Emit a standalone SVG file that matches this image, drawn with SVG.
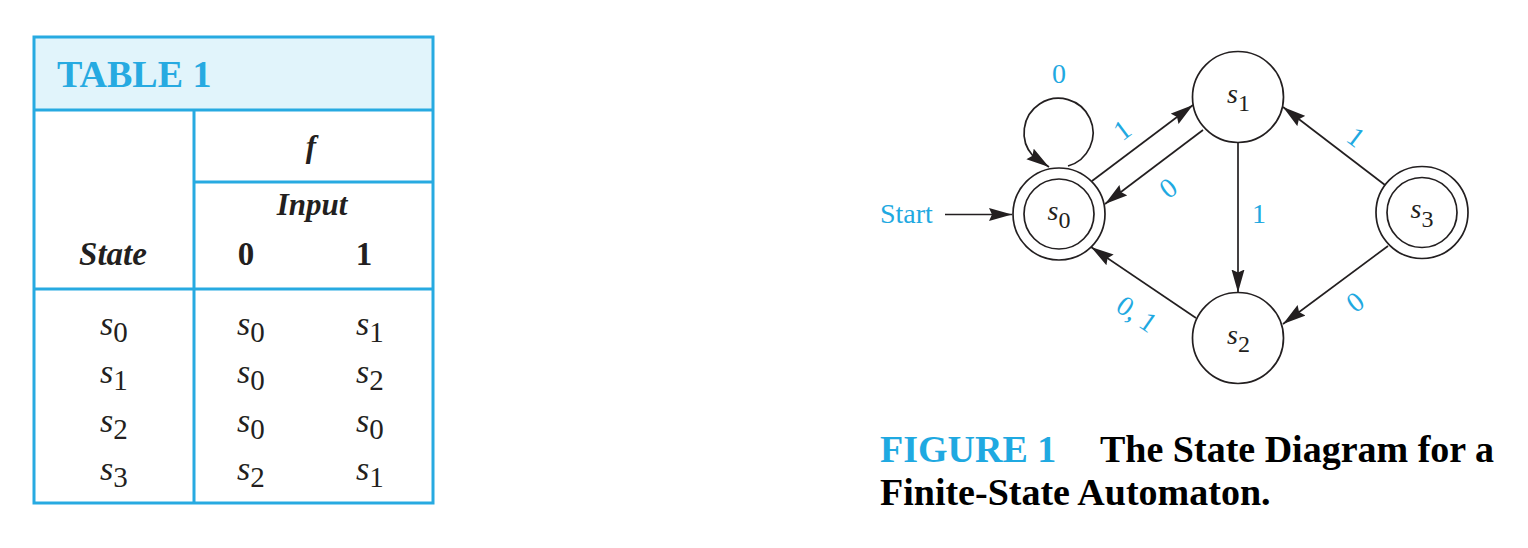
<svg xmlns="http://www.w3.org/2000/svg" width="1528" height="548" viewBox="0 0 1528 548">
<style>
.tb{fill:none;stroke:#27aae1;stroke-width:3}
.hd{fill:#e1f4fb}
.title{font-family:"Liberation Serif",serif;font-weight:bold;font-size:38px;fill:#27aae1}
.bi{font-family:"Liberation Serif",serif;font-weight:bold;font-style:italic;fill:#231f20}
.b{font-family:"Liberation Serif",serif;font-weight:bold;font-size:33px;fill:#231f20}
.ts{font-family:"Liberation Serif",serif;font-style:italic;font-size:34px;fill:#231f20}
.tsub{font-style:normal;font-size:29px}
.node{fill:none;stroke:#231f20;stroke-width:1.7}
.nl{font-family:"Liberation Serif",serif;font-style:italic;font-size:28px;fill:#231f20}
.nsub{font-style:normal;font-size:24px}
.edge{fill:none;stroke:#231f20;stroke-width:1.7;marker-end:url(#ah)}
.el{font-family:"Liberation Serif",serif;font-size:28px;fill:#1fa9e1;text-anchor:middle}
.cap{font-family:"Liberation Serif",serif;font-weight:bold;font-size:38px;fill:#000}
</style>
<defs>
<marker id="ah" markerUnits="userSpaceOnUse" markerWidth="24" markerHeight="14" refX="23" refY="7" orient="auto" viewBox="0 0 24 14">
<path d="M0,0.5 L23,7 L0,13.5 L3,7 z" fill="#231f20"/>
</marker>
</defs>
<rect width="1528" height="548" fill="#fff"/>

<g id="table1">
<rect class="hd" x="34" y="37" width="399" height="73"/>
<rect class="tb" x="34" y="37" width="399" height="466"/>
<line class="tb" x1="34" y1="110" x2="433" y2="110"/>
<line class="tb" x1="194" y1="110" x2="194" y2="503"/>
<line class="tb" x1="194" y1="182" x2="433" y2="182"/>
<line class="tb" x1="34" y1="289" x2="433" y2="289"/>
<text class="title" x="57" y="87">TABLE 1</text>
<text class="bi" x="311" y="157" font-size="31" text-anchor="middle">f</text>
<text class="bi" x="312" y="215" font-size="31" text-anchor="middle">Input</text>
<text class="bi" x="113" y="265" font-size="33" text-anchor="middle">State</text>
<text class="b" x="246" y="265" text-anchor="middle">0</text>
<text class="b" x="364" y="265" text-anchor="middle">1</text>
<text class="ts" x="100" y="335">s<tspan class="tsub" dy="7">0</tspan></text>
<text class="ts" x="237" y="335">s<tspan class="tsub" dy="7">0</tspan></text>
<text class="ts" x="356" y="335">s<tspan class="tsub" dy="7">1</tspan></text>
<text class="ts" x="100" y="383">s<tspan class="tsub" dy="7">1</tspan></text>
<text class="ts" x="237" y="383">s<tspan class="tsub" dy="7">0</tspan></text>
<text class="ts" x="356" y="383">s<tspan class="tsub" dy="7">2</tspan></text>
<text class="ts" x="100" y="432">s<tspan class="tsub" dy="7">2</tspan></text>
<text class="ts" x="237" y="432">s<tspan class="tsub" dy="7">0</tspan></text>
<text class="ts" x="356" y="432">s<tspan class="tsub" dy="7">0</tspan></text>
<text class="ts" x="100" y="480">s<tspan class="tsub" dy="7">3</tspan></text>
<text class="ts" x="237" y="480">s<tspan class="tsub" dy="7">2</tspan></text>
<text class="ts" x="356" y="480">s<tspan class="tsub" dy="7">1</tspan></text>
</g>

<g id="connectors">
<line class="edge" x1="945" y1="214.5" x2="1012" y2="214.5"/>
<path class="edge" d="M1068,166 A34.5,34.5 0 1 0 1033,156 L1049,167"/>
<line class="edge" x1="1092" y1="181" x2="1193" y2="105"/>
<line class="edge" x1="1203" y1="130" x2="1105" y2="204"/>
<line class="edge" x1="1238" y1="142.5" x2="1238" y2="292.5"/>
<line class="edge" x1="1385" y1="185" x2="1283" y2="107"/>
<line class="edge" x1="1388" y1="246" x2="1283" y2="324"/>
<line class="edge" x1="1196" y1="318" x2="1091" y2="247"/>
<text class="el" x="1059" y="82.5">0</text>
<text class="el" x="1122" y="139.5" transform="rotate(-37 1122 130)">1</text>
<text class="el" x="1168" y="197.5" transform="rotate(-37 1168 188)">0</text>
<text class="el" x="1259" y="222.5">1</text>
<text class="el" x="1356" y="146.5" transform="rotate(37 1356 137)">1</text>
<text class="el" x="1355" y="311.5" transform="rotate(-37 1355 302)">0</text>
<text class="el" x="1137" y="323.5" transform="rotate(35 1137 314)">0, 1</text>
<text x="880" y="223" font-family="Liberation Serif, serif" font-size="28" fill="#1fa9e1">Start</text>
</g>

<g id="s0">
<circle class="node" cx="1059" cy="214" r="46"/>
<circle class="node" cx="1059" cy="214" r="35"/>
<text class="nl" x="1047.5" y="219.5">s<tspan class="nsub" dy="8.5">0</tspan></text>
</g>
<g id="s1">
<circle class="node" cx="1238" cy="97" r="45.5"/>
<text class="nl" x="1227" y="102.5">s<tspan class="nsub" dy="8.5">1</tspan></text>
</g>
<g id="s2">
<circle class="node" cx="1238" cy="338" r="45.5"/>
<text class="nl" x="1227" y="343.5">s<tspan class="nsub" dy="8.5">2</tspan></text>
</g>
<g id="s3">
<circle class="node" cx="1422" cy="212.5" r="46"/>
<circle class="node" cx="1422" cy="212.5" r="35"/>
<text class="nl" x="1410.5" y="218">s<tspan class="nsub" dy="8.5">3</tspan></text>
</g>

<g id="caption">
<text class="cap" x="880" y="462"><tspan fill="#1fa9e1">FIGURE 1</tspan></text>
<text class="cap" x="1100" y="462">The State Diagram for a</text>
<text class="cap" x="880" y="505">Finite-State Automaton.</text>
</g>
</svg>
